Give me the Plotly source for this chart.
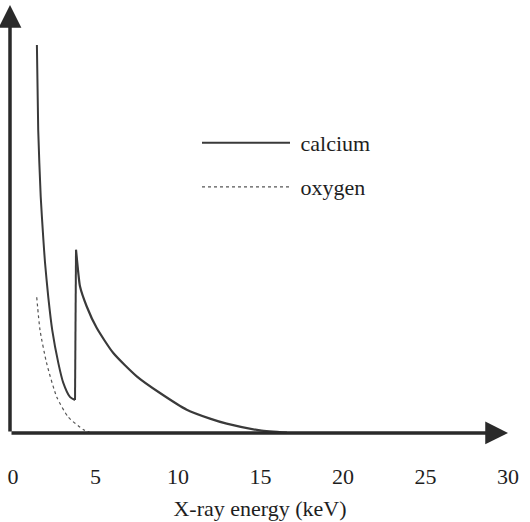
import plotly.graph_objects as go

# Data (arbitrary intensity units)
calcium_energy = [1.45, 1.53, 1.68, 1.84, 1.94, 2.14, 2.38, 2.75, 3.05, 3.45, 3.76,
                  3.82, 3.96, 4.06, 4.47, 5.07, 6.08, 7.5, 8.91, 10.53, 11.94, 12.95, 14.97, 16.6]
calcium_value = [100, 78, 61, 50, 44, 35, 26.5, 18, 12.9, 9.3, 8.5,
                 47.2, 41.2, 37.8, 32.6, 27.1, 20.6, 14.6, 10.3, 6.0, 3.7, 2.4, 0.67, 0.08]
oxygen_energy = [1.44, 1.64, 2.04, 2.65, 3.35, 4.26, 4.75]
oxygen_value = [35, 26.5, 18, 9.3, 4.1, 0.9, 0]
x_ticks = [0, 5, 10, 15, 20, 25, 30]
series_names = ["\u00a0calcium", "\u00a0oxygen"]

EDGE = 10  # index of the minimum just before the absorption edge

FONT = "Liberation Serif, Times New Roman, Times, serif"
LINE_COLOR = "#3a3a3a"
AXIS_COLOR = "#2a2a2a"
TEXT_COLOR = "#1e1e1e"

fig = go.Figure()
# calcium: below edge, the edge itself, above edge
fig.add_trace(go.Scatter(x=calcium_energy[:EDGE + 1], y=calcium_value[:EDGE + 1], mode="lines",
                         line=dict(color=LINE_COLOR, width=2, shape="spline", smoothing=0.6),
                         name=series_names[0], legendgroup="ca", legend="legend", showlegend=True))
fig.add_trace(go.Scatter(x=calcium_energy[EDGE:EDGE + 2], y=calcium_value[EDGE:EDGE + 2], mode="lines",
                         line=dict(color=LINE_COLOR, width=2),
                         name=series_names[0], legendgroup="ca", showlegend=False))
fig.add_trace(go.Scatter(x=calcium_energy[EDGE + 1:], y=calcium_value[EDGE + 1:], mode="lines",
                         line=dict(color=LINE_COLOR, width=2.2, shape="spline", smoothing=0.6),
                         name=series_names[0], legendgroup="ca", showlegend=False))
fig.add_trace(go.Scatter(x=oxygen_energy, y=oxygen_value, mode="lines",
                         line=dict(color="#555555", width=1.2, dash="dot", shape="spline", smoothing=0.6),
                         name=series_names[1], legend="legend2", showlegend=True))

x0, x1 = -0.18, 30.12
y0, y1 = -0.52, 110.3

# axes as arrows
fig.add_annotation(x=30.0, y=0, ax=x0, ay=0, xref="x", yref="y", axref="x", ayref="y",
                   showarrow=True, arrowhead=2, arrowsize=1.3, arrowwidth=3.5, arrowcolor=AXIS_COLOR, text="")
fig.add_annotation(x=x0, y=y1, ax=x0, ay=0, xref="x", yref="y", axref="x", ayref="y",
                   showarrow=True, arrowhead=2, arrowsize=1.3, arrowwidth=3.5, arrowcolor=AXIS_COLOR, text="")

legend_common = dict(font=dict(family=FONT, size=22, color=TEXT_COLOR), bgcolor="rgba(0,0,0,0)",
                     borderwidth=0, itemwidth=88, xanchor="left", yanchor="middle")

fig.update_layout(
    width=530, height=522,
    margin=dict(l=10, r=20, t=5, b=87),
    paper_bgcolor="white", plot_bgcolor="white",
    font=dict(family=FONT, size=22, color=TEXT_COLOR),
    xaxis=dict(range=[x0, x1], showgrid=False, zeroline=False, showline=False,
               tickvals=x_ticks, ticktext=[str(t) for t in x_ticks], ticks="",
               ticklabelstandoff=26, tickfont=dict(family=FONT, size=22, color=TEXT_COLOR),
               title=dict(text="X-ray energy (keV)", standoff=12,
                          font=dict(family=FONT, size=22, color=TEXT_COLOR))),
    yaxis=dict(range=[y0, y1], showgrid=False, zeroline=False, showline=False,
               showticklabels=False, ticks=""),
    legend=dict(x=(197 - 10) / 500, y=(435 - 143) / 430, **legend_common),
    legend2=dict(x=(197 - 10) / 500, y=(435 - 187) / 430, **legend_common),
)

fig.write_html("out.html", config={"displayModeBar": False},
               post_script="document.body.style.margin='0px';")
